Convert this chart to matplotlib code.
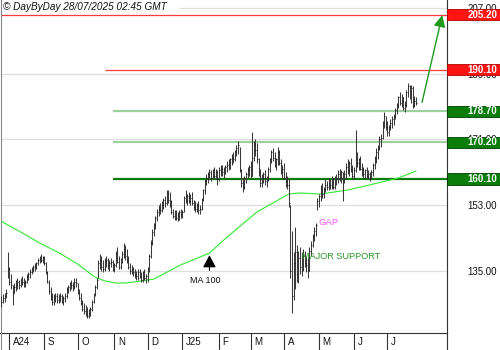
import numpy as np
import pandas as pd
import matplotlib
matplotlib.use('Agg')
import matplotlib.pyplot as plt
import matplotlib.transforms as mtransforms
from matplotlib.patches import Rectangle
from matplotlib.lines import Line2D

plt.rcParams['font.family'] = ['Liberation Sans', 'DejaVu Sans']

# ---------------- data ----------------
start_date = '2024-07-25'
end_date = '2025-07-25'

highs = [128, 128.5, 129, 130, 140, 136, 134, 131, 131.5, 132.5,
         133, 132.5, 133, 133.5, 133, 132.5, 134, 134.5, 135.5, 136,
         136.5, 137, 137.5, 138.5, 139, 139.5, 139, 139, 137.5, 135,
         132.5, 130.5, 129, 128.5, 129, 129, 128.5, 129, 128.5, 128,
         129, 130.5, 131, 132, 132.5, 132, 133, 133, 131.5, 130,
         129, 127, 126, 125.5, 125, 124.5, 125, 127, 129, 131,
         133, 138, 139.5, 139, 138, 138.5, 139, 138.5, 138, 138.5,
         138, 137, 140.5, 141.5, 139, 138.5, 140.5, 142.5, 142, 141,
         139, 137, 136.5, 136, 135.5, 135, 135.5, 135.5, 134.5, 135,
         135.5, 134, 136, 139.5, 143.5, 146.5, 148, 150, 152, 153,
         153.5, 154, 155, 155.5, 157, 157, 156.5, 154.5, 152, 151.5,
         151.5, 151, 151.5, 152, 151.5, 155.5, 157, 156, 156.5, 156,
         156.5, 154.5, 154, 153.5, 154, 153, 155, 157.5, 160, 161.5,
         162, 163, 162.5, 163, 163.5, 163, 162.5, 163.5, 164, 164,
         163.5, 164, 165, 165.5, 166, 167, 167.5, 168, 169.5, 170.5,
         169, 163, 160.5, 161, 162, 163.5, 164, 165, 173, 170.5,
         171, 170, 166, 163, 161.5, 162, 162.5, 161, 163.5, 166,
         168, 168.5, 167.5, 166, 169, 168, 165.5, 164, 164.5, 162,
         161, 160, 153, 146, 140, 147, 142, 140.5, 141.5, 140,
         141, 140.5, 139, 138.5, 141.5, 143, 145, 147, 148, 155,
         156, 158.5, 159, 158, 160, 159.5, 160.5, 160, 161, 160.5,
         161, 161.5, 162.5, 163, 162.5, 162, 162.5, 164.5, 165.5, 165,
         166, 164, 163.5, 173.5, 167.5, 166, 166.5, 164.5, 163.5, 163,
         163.5, 162.5, 162, 162.5, 164.5, 166.5, 168.5, 169.5, 172, 172.5,
         176, 178.5, 177.5, 176, 175, 176.5, 177.5, 178, 179.5, 181,
         183, 184, 183.5, 182.5, 181.5, 184.5, 186.5, 186, 186, 185.5,
         183, 182.5]

lows = [125, 126, 126.5, 127.5, 133, 131, 130, 125.5, 129, 129.5,
        130, 130, 130.5, 131, 130.5, 130.5, 131.5, 132.5, 133, 134,
        134.5, 135, 135.5, 136.5, 137, 137.5, 137, 136.5, 134, 131.5,
        128.5, 127, 125.5, 125.5, 126.5, 126, 126, 126.5, 126, 125.5,
        126.5, 127.5, 129, 129.5, 130, 129.5, 130, 130.5, 128.5, 127,
        125.5, 124, 123, 122.5, 122, 122, 122.5, 124, 126, 128,
        130, 133, 135.5, 135, 134.5, 135, 136, 135.5, 135, 136,
        135, 134.5, 136, 137, 135.5, 135.5, 137, 138.5, 138, 137,
        135.5, 134, 134, 133.5, 133, 132.5, 132.5, 133, 132, 132,
        132.5, 131.5, 132, 134.5, 138.5, 142, 144.5, 146.5, 148.5, 150,
        150.5, 151, 152, 152.5, 153, 153.5, 152.5, 150.5, 149.5, 149,
        149, 148.5, 149, 149.5, 149.5, 151, 153.5, 153, 153.5, 153,
        153, 151.5, 151, 151, 150.5, 150.5, 151.5, 154, 156, 158.5,
        159, 160, 159.5, 160, 160.5, 160, 158.5, 159.5, 161, 161,
        160.5, 161.5, 162, 162.5, 163, 164, 164.5, 165, 166.5, 167,
        162, 158, 156.5, 157.5, 159, 160.5, 161, 160.5, 161, 165,
        166.5, 164.5, 161, 158, 158, 159, 158.5, 158, 159.5, 162,
        164.5, 165, 163.5, 162.5, 164, 164, 161.5, 160, 160, 158,
        157.5, 152.5, 133, 123.5, 127, 130, 132, 131.5, 134, 133.5,
        135, 136, 134.5, 133, 135, 139, 141.5, 143, 144.5, 151.5,
        152.5, 154, 155, 155, 156.5, 157, 157, 157.5, 157.5, 157.5,
        157.5, 158.5, 159, 159.5, 159, 154, 159, 160, 161.5, 161,
        162, 160, 160, 162, 163.5, 162.5, 162.5, 161, 160.5, 160,
        160.5, 160, 159.5, 160, 161, 163, 164.5, 165.5, 168, 169,
        171, 174, 173.5, 172, 172, 173.5, 174, 175, 176.5, 178,
        179.5, 180.5, 180, 179, 178.5, 180, 182.5, 182, 181, 179.5,
        180, 180.5]

closes = [126.5, 127.5, 128, 129, 135.5, 132, 131, 129, 130.5, 131,
          132, 131, 132.5, 132, 131.5, 132, 133.5, 134, 134.5, 135.5,
          136, 136.5, 137, 138, 138.5, 138, 138.5, 137, 134.5, 132,
          129.5, 128, 126.5, 127.5, 128, 127, 127.5, 128, 126.5, 127.5,
          128, 130, 130.5, 131.5, 131, 130.5, 132, 131.5, 129, 127.5,
          126, 124.5, 124, 123.5, 122.5, 123.5, 124.5, 126.5, 128.5, 130.5,
          132.5, 137, 138, 136, 135.5, 137.5, 138, 136.5, 137, 137.5,
          135.5, 136.5, 139.5, 137.5, 136, 137.5, 139.5, 141, 139, 138,
          136, 135, 135.5, 134.5, 134, 133.5, 134.5, 133.5, 132.5, 134.5,
          133, 133.5, 135.5, 139, 142.5, 145.5, 147.5, 149.5, 151, 152,
          151.5, 153, 154.5, 153.5, 156, 154.5, 153, 151, 150, 150.5,
          149.5, 150, 151, 150.5, 151, 155, 154.5, 155.5, 154, 155,
          153.5, 152.5, 152, 153, 151.5, 152, 154.5, 157, 159.5, 160.5,
          161.5, 162, 160.5, 162.5, 161, 162, 160, 162.5, 163, 162,
          162.5, 163.5, 164, 163.5, 165.5, 166, 165.5, 167.5, 168.5, 169.5,
          162.5, 159, 158, 160.5, 161.5, 162.5, 163.5, 161, 166, 169.5,
          168, 165.5, 162, 159, 160.5, 161.5, 159.5, 160, 163, 165.5,
          167.5, 166, 164.5, 165.5, 167.5, 164.5, 162, 163, 160.5, 159.5,
          158.5, 153.5, 135, 128, 137, 140, 134, 138.5, 136, 137.5,
          139, 137, 136.5, 135, 140.5, 142, 144.5, 146, 147.5, 154,
          155.5, 157.5, 156, 157.5, 158.5, 158, 159.5, 158.5, 160, 158,
          160.5, 160, 161.5, 160.5, 162, 160, 161.5, 163.5, 162.5, 164.5,
          163, 161, 162.5, 166.5, 164.5, 165.5, 163, 162.5, 161.5, 162.5,
          161, 161.5, 160.5, 162, 164, 166, 167.5, 168.5, 171, 171.5,
          175, 177.5, 174.5, 173, 174.5, 175.5, 176.5, 177.5, 179, 180.5,
          182.5, 181, 182.5, 179.5, 180.5, 184, 185.5, 183, 185, 180.5,
          181.5, 181]

ma_dates = ['2024-07-25', '2024-08-12', '2024-08-28', '2024-09-16', '2024-10-01',
            '2024-10-16', '2024-10-24', '2024-11-04', '2024-11-12', '2024-11-20',
            '2024-11-28', '2024-12-06', '2024-12-17', '2024-12-31', '2025-01-13',
            '2025-01-24', '2025-02-07', '2025-03-07', '2025-04-04', '2025-04-15',
            '2025-05-02', '2025-05-27', '2025-06-16', '2025-07-10', '2025-07-25']
ma_values = [148.5, 145.6, 142.6, 139.7, 136.8,
             133.2, 132.2, 131.6, 131.6, 131.9,
             132.3, 132.7, 134.3, 136.6, 138.2,
             139.8, 143.8, 151.1, 156.0, 156.3,
             156.0, 157.1, 158.5, 160.4, 162.3]

levels = [205.20, 190.10, 178.70, 170.20, 160.10]
level_starts = [None, '2024-10-24', '2024-10-31', '2024-10-31', '2024-10-31']
level_line_colors = ['#ff3b3b', '#ff3b3b', '#9fcf9f', '#9fcf9f', '#0a7a0a']
level_line_widths = [0.9, 0.9, 1.6, 1.6, 1.6]
level_box_colors = ['#ff1414', '#ff1414', '#0a7d0a', '#0a7d0a', '#0a7d0a']
level_box_edges = ['#b00000', '#b00000', '#003c00', '#003c00', '#003c00']

y_ticks = [135, 153, 171, 189, 207]
month_labels = ['A24', 'S', 'O', 'N', 'D', 'J25', 'F', 'M', 'A', 'M', 'J', 'J']

header = '\u00a9 DayByDay 28/07/2025 02:45 GMT'
ma_label = 'MA 100'
ma_label_date = '2025-01-24'
gap_label = 'GAP'
gap_date = '2025-05-01'
support_label = 'MAJOR SUPPORT'
support_date = '2025-04-16'

# ---------------- figure ----------------
W, H = 500, 350
fig = plt.figure(figsize=(W / 100, H / 100), dpi=100)
ax_left, ax_right, ax_bottom = 0.5, 446.5, 333
ax = fig.add_axes([ax_left / W, (H - ax_bottom) / H, (ax_right - ax_left) / W, ax_bottom / H])
ax_w_px = ax_right - ax_left
ax_h_px = ax_bottom

dates = pd.bdate_range(start_date, end_date)
n = len(dates)
idx = np.arange(n)
date_to_idx = {d: i for i, d in enumerate(dates)}

def d2i(s):
    return dates.searchsorted(pd.Timestamp(s))

x_lo, x_hi = -0.6, n - 1 + 19.3
y_lo, y_hi = 117.9, 209.2
ax.set_xlim(x_lo, x_hi)
ax.set_ylim(y_lo, y_hi)
px_per_unit = ax_h_px / (y_hi - y_lo)

# grid
ax.set_yticks(y_ticks)
ax.set_yticklabels([f'{v:.2f}' for v in y_ticks])
ax.yaxis.grid(True, color='#dedede', lw=0.9, zorder=0)
ax.set_axisbelow(True)
ax.yaxis.tick_right()
ax.tick_params(axis='y', length=0, pad=50.5 * 0.72, labelsize=7, labelcolor='#111111')
for lbl in ax.get_yticklabels():
    lbl.set_horizontalalignment('right')

# spines
ax.spines['top'].set_visible(False)
ax.spines['left'].set_color('#888888')
ax.spines['left'].set_linewidth(0.8)
ax.spines['right'].set_color('#333333')
ax.spines['right'].set_linewidth(0.8)
ax.spines['bottom'].set_color('#333333')
ax.spines['bottom'].set_linewidth(0.8)

# month ticks
month_starts = []
prev = None
for i, d in enumerate(dates):
    key = (d.year, d.month)
    if key != prev and i > 0:
        month_starts.append(i)
    prev = key
month_starts = month_starts[:len(month_labels)]
ax.set_xticks(month_starts)
ax.set_xticklabels([])
ax.tick_params(axis='x', direction='out', length=17 * 0.72, width=0.8, color='#333333')
for m, lab in zip(month_starts, month_labels):
    ax.annotate(lab, xy=(m, 0), xycoords=('data', 'axes fraction'),
                xytext=(2.6, -6.6), textcoords='offset points',
                ha='left', va='center', fontsize=7, color='#111111')
# right border continuing through the label band
fig.add_artist(Line2D([ax_right / W, ax_right / W], [0, (H - ax_bottom) / H],
                      color='#333333', lw=0.8))
fig.add_artist(Line2D([ax_left / W, ax_left / W], [0, (H - ax_bottom) / H],
                      color='#888888', lw=0.8))

# level lines
for lvl, st, c, lw in zip(levels, level_starts, level_line_colors, level_line_widths):
    xs = x_lo if st is None else d2i(st)
    ax.hlines(lvl, xs, x_hi, color=c, lw=lw, zorder=2)

# MA 100
ma_idx = [d2i(s) for s in ma_dates]
ax.plot(ma_idx, ma_values, color='#3de83d', lw=0.85, zorder=3)

# OHLC bars
ax.vlines(idx, lows, highs, color='#3a3a3a', lw=0.75, zorder=4)
ax.hlines(closes, idx, idx + 0.6, color='#111111', lw=0.6, zorder=4)

# level boxes on the right axis
trans = mtransforms.blended_transform_factory(ax.transAxes, ax.transData)
box_h = 11.4 / px_per_unit
for lvl, fc, ec in zip(levels, level_box_colors, level_box_edges):
    r = Rectangle((1.0 + 0.6 / ax_w_px, lvl - box_h / 2), 52.5 / ax_w_px, box_h,
                  transform=trans, facecolor=fc, edgecolor=ec, lw=0.6,
                  clip_on=False, zorder=6)
    ax.add_patch(r)
    ax.text(1.0 + 50.5 / ax_w_px, lvl, f'{lvl:.2f}', transform=trans,
            ha='right', va='center', color='white', fontsize=7,
            fontweight='bold', clip_on=False, zorder=7)

# header
ax.add_patch(Rectangle((0, 1 - 13 / ax_h_px), 178 / ax_w_px, 13 / ax_h_px,
                       transform=ax.transAxes, facecolor='white', edgecolor='none', zorder=1.5))
ax.text(2.5 / ax_w_px, 1 - 7.5 / ax_h_px, header, transform=ax.transAxes,
        ha='left', va='center', fontsize=7.2, style='italic', color='#111111', zorder=8)

# target arrow
ax.annotate('', xy=(n - 1 + 17, levels[0] + 0.6), xytext=(n - 1 + 3.5, closes[-1] - 0.6),
            arrowprops=dict(arrowstyle='-|>,head_length=0.7,head_width=0.35',
                            color='#1f9a1f', lw=1.0, mutation_scale=10), zorder=8)

# MA 100 label and arrow
mi = d2i(ma_label_date)
mv = ma_values[ma_dates.index(ma_label_date)]
ax.annotate('', xy=(mi, mv + 0.2), xytext=(mi, mv - 20 / px_per_unit),
            arrowprops=dict(arrowstyle='-|>,head_length=0.75,head_width=0.4',
                            color='black', lw=0.8, mutation_scale=10), zorder=8)
ax.annotate(ma_label, xy=(mi, mv), xytext=(-3, -19.5), textcoords='offset points',
            ha='center', va='center', fontsize=6.5, color='#111111', zorder=8)

# GAP and MAJOR SUPPORT
gi = d2i(gap_date)
ax.text(gi - 0.3, 148.3, gap_label, ha='left', va='center', fontsize=6.8,
        color='#ff55ff', zorder=8)
si = d2i(support_date)
ax.text(si + 0.4, 139.0, support_label, ha='left', va='center', fontsize=6.6,
        color='#2a9a2a', zorder=8)

fig.savefig('out.png', dpi=100, facecolor='white')
